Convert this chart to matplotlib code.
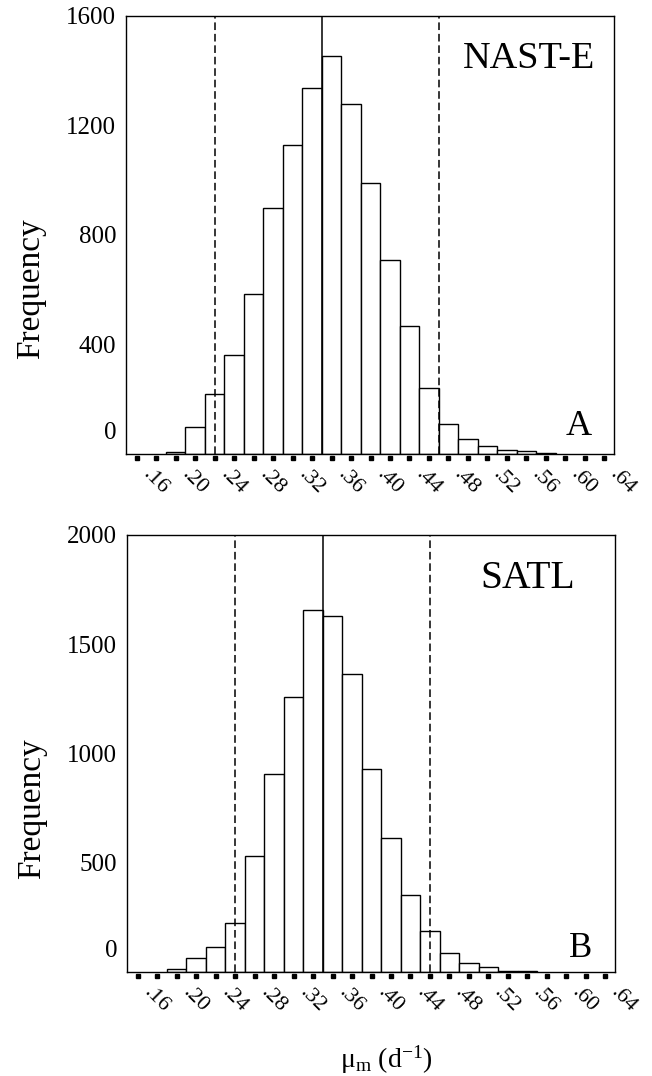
import numpy as np
import matplotlib
matplotlib.use('Agg')
import matplotlib.pyplot as plt
from matplotlib.transforms import ScaledTranslation

plt.rcParams['font.family'] = ['Liberation Serif', 'DejaVu Serif']
plt.rcParams['mathtext.fontset'] = 'custom'
plt.rcParams['mathtext.rm'] = 'Liberation Serif'
plt.rcParams['mathtext.it'] = 'Liberation Serif:italic'

# ---------------- data ----------------
bin_centers_a = [0.20, 0.22, 0.24, 0.26, 0.28, 0.30, 0.32, 0.34, 0.36, 0.38,
                 0.40, 0.42, 0.44, 0.46, 0.48, 0.50, 0.52, 0.54, 0.56, 0.58]
freq_a = [8, 100, 220, 360, 585, 898, 1130, 1335, 1452, 1277,
          990, 710, 466, 240, 111, 56, 30, 16, 10, 5]

bin_centers_b = [0.20, 0.22, 0.24, 0.26, 0.28, 0.30, 0.32, 0.34, 0.36, 0.38,
                 0.40, 0.42, 0.44, 0.46, 0.48, 0.50, 0.52, 0.54, 0.56]
freq_b = [14, 64, 114, 224, 531, 905, 1259, 1657, 1629, 1362,
          931, 615, 351, 186, 88, 39, 21, 6, 5]

bin_width = 0.02

x_tick_values = [0.16, 0.20, 0.24, 0.28, 0.32, 0.36, 0.40, 0.44, 0.48, 0.52, 0.56, 0.60, 0.64]
x_tick_labels = ['.16', '.20', '.24', '.28', '.32', '.36', '.40', '.44', '.48', '.52', '.56', '.60', '.64']
x_dot_values = [0.16, 0.18, 0.20, 0.22, 0.24, 0.26, 0.28, 0.30, 0.32, 0.34, 0.36, 0.38, 0.40,
                0.42, 0.44, 0.46, 0.48, 0.50, 0.52, 0.54, 0.56, 0.58, 0.60, 0.62, 0.64]

y_ticks_a = [0, 400, 800, 1200, 1600]
y_ticks_b = [0, 500, 1000, 1500, 2000]

mean_a, lower_a, upper_a = 0.35, 0.24, 0.47
mean_b, lower_b, upper_b = 0.35, 0.26, 0.46

region_a, region_b = 'NAST-E', 'SATL'
panel_a, panel_b = 'A', 'B'

# ---------------- figure ----------------
fig = plt.figure(figsize=(6.52, 10.76), dpi=100)
ax_a = fig.add_axes([0.1933, 0.5781, 0.7485, 0.4071])
ax_b = fig.add_axes([0.1948, 0.0967, 0.7485, 0.4061])


def style_panel(ax, centers, freqs, yticks, ymax, mean, lo, hi, region, panel,
                region_x, region_y, region_fs, panel_x, panel_y, panel_fs, ylabel_y):
    ax.bar(centers, freqs, width=bin_width, color='white', edgecolor='black',
           linewidth=1.0, zorder=2)
    ax.axvline(mean, color='black', lw=1.1, zorder=3)
    for v in (lo, hi):
        ax.axvline(v, color='black', lw=1.1, dashes=(5, 2.5), zorder=3)
    ax.set_xlim(0.149, 0.650)
    ax.set_ylim(0, ymax)
    for s in ax.spines.values():
        s.set_linewidth(1.0)

    # dotted tick marks below the axis
    ax.plot(x_dot_values, [-0.009] * len(x_dot_values), ls='none', marker='s',
            ms=2.3, color='black', transform=ax.get_xaxis_transform(),
            clip_on=False)

    ax.set_xticks(x_tick_values)
    ax.set_xticklabels(x_tick_labels, rotation=-45, ha='left', va='top',
                       rotation_mode='default', fontsize=16)
    ax.tick_params(axis='x', length=0, pad=8)
    off = ScaledTranslation(2 / 100, 0, fig.dpi_scale_trans)
    for lab in ax.get_xticklabels():
        lab.set_transform(lab.get_transform() + off)

    ax.set_yticks(yticks)
    ax.set_yticklabels([str(t) for t in yticks], fontsize=18)
    ax.tick_params(axis='y', length=0, pad=7)
    zero_tick = ax.yaxis.get_major_ticks()[0]
    zero_tick.label1.set_transform(zero_tick.label1.get_transform() +
                                   ScaledTranslation(0, 23 / 100, fig.dpi_scale_trans))

    ax.set_ylabel('Frequency', fontsize=24)
    ax.yaxis.set_label_coords(-0.163, ylabel_y)

    ax.text(region_x, region_y, region, transform=ax.transAxes, ha='right',
            va='baseline', fontsize=region_fs)
    ax.text(panel_x, panel_y, panel, transform=ax.transAxes, ha='right',
            va='baseline', fontsize=panel_fs)


style_panel(ax_a, bin_centers_a, freq_a, y_ticks_a, 1600, mean_a, lower_a, upper_a,
            region_a, panel_a, 0.961, 0.881, 27.5, 0.955, 0.043, 26, 0.377)
style_panel(ax_b, bin_centers_b, freq_b, y_ticks_b, 2000, mean_b, lower_b, upper_b,
            region_b, panel_b, 0.918, 0.879, 28.5, 0.953, 0.034, 25, 0.373)

fig.text(386 / 652, 1 - 1068 / 1076, 'μ$_{\\mathrm{m}}$ (d$^{\\mathrm{-1}}$)',
         ha='center', va='baseline', fontsize=20)

fig.savefig('out.png', dpi=100)
